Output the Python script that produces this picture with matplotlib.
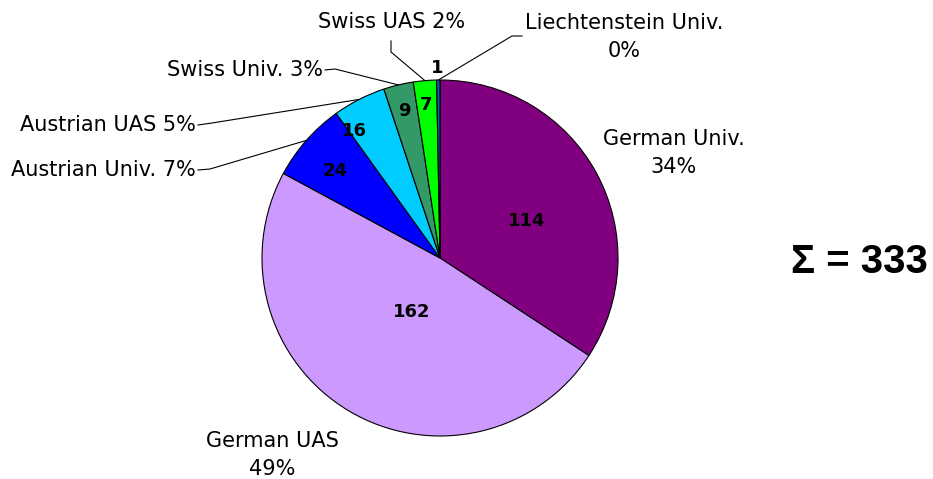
import numpy as np
import matplotlib.pyplot as plt

# data
names = ["German Univ.", "German UAS", "Austrian Univ.", "Austrian UAS",
         "Swiss Univ.", "Swiss UAS", "Liechtenstein Univ."]
counts = [114, 162, 24, 16, 9, 7, 1]
colors = ["#800080", "#CC99FF", "#0000FF", "#00CCFF", "#339966", "#00FF00", "#0066AA"]

W, H = 933, 479
fig = plt.figure(figsize=(W / 100, H / 100), dpi=100)
ax = fig.add_axes([0, 0, 1, 1])

cx, cy, r = 440, H - 258, 178
wedges, _ = ax.pie(counts, colors=colors, startangle=90, counterclock=False,
                   center=(cx, cy), radius=r, frame=True,
                   wedgeprops=dict(edgecolor="black", linewidth=0.8))
ax.set_xlim(0, W)
ax.set_ylim(0, H)
ax.set_aspect("equal")
ax.axis("off")

total = sum(counts)
pct = [round(100 * c / total) for c in counts]

def edge(i, f=1.0):
    w = wedges[i]
    a = np.deg2rad((w.theta1 + w.theta2) / 2)
    return cx + f * r * np.cos(a), cy + f * r * np.sin(a)

# numbers inside slices (pixel positions from reference)
num_pos = [(527, 221), (412, 312), (335, 171), (354, 131), (404, 111), (426, 105), (437, 68)]
for c, (x, y) in zip(counts, num_pos):
    ax.text(x, H - y, str(c), ha="center", va="center",
            fontsize=13, fontweight="bold", color="black")

lfs = 15
ls = 1.45
# labels without leader
ax.text(674, H - 153, f"{names[0]}\n{pct[0]}%", ha="center", va="center",
        fontsize=lfs, linespacing=ls)
ax.text(272, H - 455, f"{names[1]}\n{pct[1]}%", ha="center", va="center",
        fontsize=lfs, linespacing=ls)

# labels with leader lines: (text x, text y, ha, knee point)
lead = {
    2: ((196, 170), "right", (210, 169)),
    3: ((196, 125), "right", (212, 123)),
    4: ((323, 70), "right", (335, 69)),
    5: ((392, 22), "center", (391, 52)),
}
for i, ((tx, ty), ha, (kx, ky)) in lead.items():
    ax.text(tx, H - ty, f"{names[i]} {pct[i]}%", ha=ha, va="center", fontsize=lfs)
    ex, ey = edge(i)
    if i == 5:
        xs, ys = [391, 391, ex], [H - 41, H - ky, ey]
    else:
        xs, ys = [tx + 2, kx, ex], [H - ty, H - ky, ey]
    ax.plot(xs, ys, color="black", linewidth=0.8)

# Liechtenstein
ex, ey = edge(6)
ax.plot([ex, 512, 522], [ey, H - 36, H - 36], color="black", linewidth=0.8)
ax.text(624, H - 37, f"{names[6]}\n{pct[6]}%", ha="center", va="center",
        fontsize=lfs, linespacing=ls)

ax.text(859, H - 262, f"\u03a3 = {total}", ha="center", va="center",
        fontsize=29, fontweight="bold", family="Liberation Sans")

fig.savefig("out.png", dpi=100)
